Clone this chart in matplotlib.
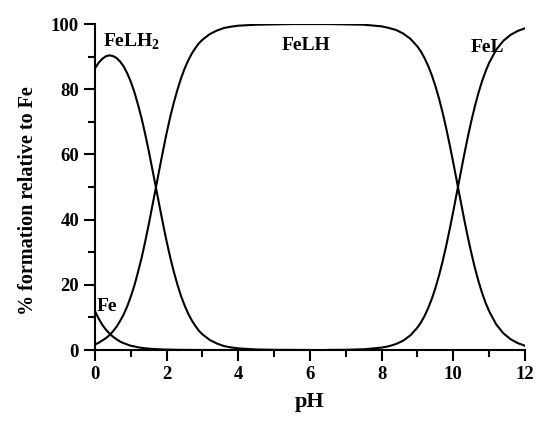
import matplotlib
matplotlib.use("Agg")
import matplotlib.pyplot as plt
from matplotlib.ticker import MultipleLocator

plt.rcParams['font.family'] = ['Liberation Serif', 'DejaVu Serif']
plt.rcParams['font.weight'] = 'bold'
plt.rcParams['mathtext.fontset'] = 'custom'
plt.rcParams['mathtext.rm'] = 'Liberation Serif:bold'

## Values (pH vs % formation relative to Fe)
# acidic side: 0 -> 6
pH_low = [0.0, 0.1, 0.2, 0.3, 0.4, 0.5, 0.6, 0.7, 0.8, 0.9,
          1.0, 1.1, 1.2, 1.3, 1.4, 1.5, 1.6, 1.7, 1.8, 1.9,
          2.0, 2.1, 2.2, 2.3, 2.4, 2.5, 2.6, 2.7, 2.8, 2.9,
          3.0, 3.2, 3.4, 3.6, 3.8, 4.0, 4.5, 5.0, 5.5, 6.0]

Fe = [11.9, 9.7, 7.8, 6.3, 5.1, 4.1, 3.3, 2.6, 2.1, 1.7,
      1.3, 1.1, 0.84, 0.67, 0.53, 0.42, 0.34, 0.27, 0.21, 0.17,
      0.13, 0.11, 0.08, 0.07, 0.05, 0.04, 0.03, 0.02, 0.02, 0.01,
      0.01, 0.0, 0.0, 0.0, 0.0, 0.0, 0.0, 0.0, 0.0, 0.0]

FeLH2 = [86.4, 88.1, 89.3, 90.1, 90.4, 90.2, 89.6, 88.5, 87.0, 84.9,
         82.3, 79.1, 75.3, 71.1, 66.3, 61.1, 55.5, 49.9, 44.2, 38.6,
         33.3, 28.4, 24.0, 20.1, 16.6, 13.7, 11.2, 9.1, 7.4, 5.9,
         4.8, 3.1, 2.0, 1.2, 0.8, 0.5, 0.16, 0.05, 0.02, 0.0]

FeLH_low = [1.7, 2.2, 2.9, 3.6, 4.5, 5.7, 7.1, 8.9, 10.9, 13.4,
            16.4, 19.8, 23.9, 28.2, 33.2, 38.5, 44.2, 49.8, 55.6, 61.2,
            66.6, 71.5, 75.9, 79.8, 83.3, 86.3, 88.8, 90.9, 92.6, 94.1,
            95.2, 96.9, 98.0, 98.8, 99.2, 99.5, 99.8, 99.9, 100.0, 100.0]

# basic side: 6.5 -> 12
pH_high = [6.5, 7.0, 7.5, 8.0, 8.2, 8.4, 8.6, 8.8,
           9.0, 9.1, 9.2, 9.3, 9.4, 9.5, 9.6, 9.7, 9.8, 9.9,
           10.0, 10.1, 10.2, 10.3, 10.4, 10.5, 10.6, 10.7, 10.8, 10.9,
           11.0, 11.2, 11.4, 11.6, 11.8, 12.0]

FeLH_high = [100.0, 99.9, 99.8, 99.3, 98.8, 98.2, 97.1, 95.5,
             93.1, 91.5, 89.5, 87.1, 84.3, 81.0, 77.2, 72.9, 68.1, 62.9,
             57.4, 51.7, 46.0, 40.3, 34.9, 29.9, 25.3, 21.2, 17.6, 14.5,
             11.9, 7.8, 5.1, 3.3, 2.1, 1.3]

FeL = [0.03, 0.07, 0.23, 0.74, 1.16, 1.83, 2.87, 4.47,
       6.90, 8.53, 10.5, 12.9, 15.7, 19.0, 22.8, 27.1, 31.9, 37.1,
       42.6, 48.3, 54.0, 59.7, 65.1, 70.1, 74.7, 78.8, 82.4, 85.5,
       88.1, 92.2, 94.9, 96.7, 97.9, 98.7]

fig = plt.figure(figsize=(5.5, 4.22), dpi=100)
ax = fig.add_axes([0.1727, 0.1706, 0.7818, 0.7724])

ax.plot(pH_low, Fe, color="black", lw=1.5)
ax.plot(pH_low, FeLH2, color="black", lw=1.5)
ax.plot(pH_low + pH_high, FeLH_low + FeLH_high, color="black", lw=1.5)
ax.plot(pH_high, FeL, color="black", lw=1.5)

ax.text(0.22, 93, "FeLH$_2$", fontsize=14, fontweight="bold", va="baseline")
ax.text(5.2, 92, "FeLH", fontsize=14, fontweight="bold", va="baseline")
ax.text(10.47, 91.4, "FeL", fontsize=14, fontweight="bold", va="baseline")
ax.text(0.06, 12, "Fe", fontsize=14, fontweight="bold", va="baseline")

ax.set_xlim(0, 12)
ax.set_ylim(0, 100)
ax.xaxis.set_major_locator(MultipleLocator(2))
ax.xaxis.set_minor_locator(MultipleLocator(1))
ax.yaxis.set_major_locator(MultipleLocator(20))
ax.yaxis.set_minor_locator(MultipleLocator(10))

ax.spines["top"].set_visible(False)
ax.spines["right"].set_visible(False)
ax.spines["left"].set_linewidth(1.5)
ax.spines["bottom"].set_linewidth(1.5)
ax.tick_params(which="major", length=8, width=1.5, labelsize=13.5)
ax.tick_params(which="minor", length=5, width=1.5)

ax.set_xlabel("pH", fontsize=16, fontweight="bold")
ax.set_ylabel("% formation relative to Fe", fontsize=14.5, fontweight="bold")
ax.xaxis.set_label_coords(0.5, -0.128)
ax.yaxis.set_label_coords(-0.133, 0.457)

fig.savefig("out.png", dpi=100)
